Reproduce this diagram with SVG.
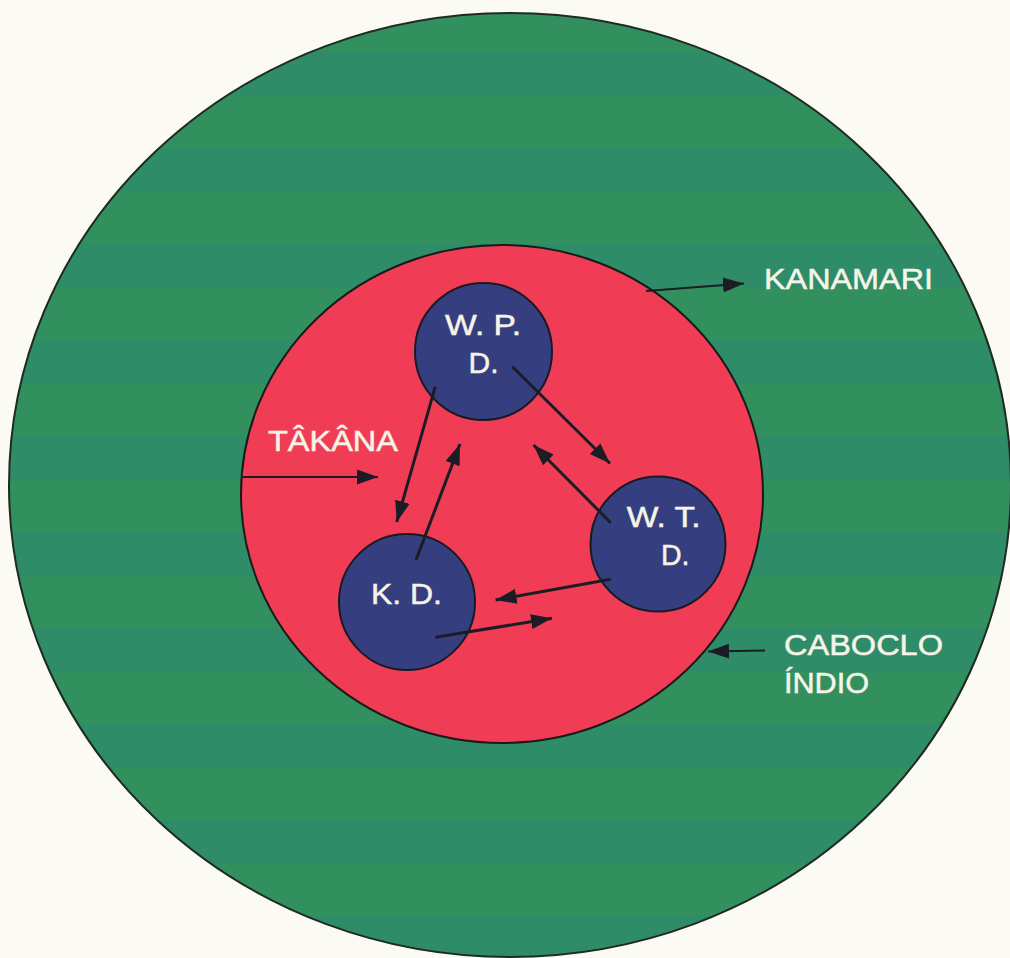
<svg xmlns="http://www.w3.org/2000/svg" width="1010" height="958" viewBox="0 0 1010 958">
  <defs>
    <style>
      .lbl { font-family: "Liberation Sans", Arial, sans-serif; font-size: 29.5px; fill: #f6f4e6; stroke: #f6f4e6; stroke-width: 0.5; }
      .conn { stroke: #1c1c26; stroke-width: 3; fill: none; marker-end: url(#ah); }
      .thin { stroke-width: 2.2; }
      .node { fill: #353f80; stroke: #1a1a24; stroke-width: 2; }
    </style>
    <marker id="ah" markerUnits="userSpaceOnUse" markerWidth="22" markerHeight="18" viewBox="0 0 22 18" refX="21" refY="9" orient="auto">
      <path d="M0,1.5 L21,9 L0,16.5 Z" fill="#1c1c26"/>
    </marker>
    <pattern id="stripes" patternUnits="userSpaceOnUse" width="1010" height="96">
      <rect width="1010" height="96" fill="#32905e"/>
      <rect y="52" width="1010" height="44" fill="#2e8d68"/>
    </pattern>
  </defs>
  <rect width="1010" height="958" fill="#fbfbf4"/>

  <g id="outer-kanamari">
    <ellipse cx="510" cy="485" rx="501" ry="472" fill="url(#stripes)" stroke="#1f2a24" stroke-width="2"/>
  </g>
  <g id="inner-takana">
    <ellipse cx="502" cy="494" rx="261" ry="249" fill="#f03d55" stroke="#1a1a1a" stroke-width="2"/>
  </g>

  <g id="node-wpd">
    <circle class="node" cx="483.5" cy="351.5" r="68.5"/>
    <text class="lbl" x="445" y="335" textLength="76" lengthAdjust="spacingAndGlyphs">W. P.</text>
    <text class="lbl" x="468.6" y="373" textLength="30" lengthAdjust="spacingAndGlyphs">D.</text>
  </g>
  <g id="node-wtd">
    <circle class="node" cx="658" cy="544" r="67.5"/>
    <text class="lbl" x="626.7" y="527" textLength="74" lengthAdjust="spacingAndGlyphs">W. T.</text>
    <text class="lbl" x="661" y="565" textLength="28.5" lengthAdjust="spacingAndGlyphs">D.</text>
  </g>
  <g id="node-kd">
    <circle class="node" cx="407" cy="602" r="68"/>
    <text class="lbl" x="371" y="604" textLength="71" lengthAdjust="spacingAndGlyphs">K. D.</text>
  </g>

  <g id="labels">
    <text class="lbl" x="268" y="451" textLength="130" lengthAdjust="spacingAndGlyphs">TÂKÂNA</text>
    <text class="lbl" x="764" y="289" textLength="169" lengthAdjust="spacingAndGlyphs">KANAMARI</text>
    <text class="lbl" x="784" y="655" textLength="159" lengthAdjust="spacingAndGlyphs">CABOCLO</text>
    <text class="lbl" x="784" y="693" textLength="85" lengthAdjust="spacingAndGlyphs">ÍNDIO</text>
  </g>

  <g id="connectors">
    <line class="conn thin" x1="242" y1="477" x2="378" y2="477"/>
    <line class="conn thin" x1="646" y1="291" x2="744" y2="283.5"/>
    <line class="conn thin" x1="765" y1="650.5" x2="708" y2="651.5"/>
    <line class="conn" x1="435.3" y1="386.7" x2="396.7" y2="522"/>
    <line class="conn" x1="416" y1="560" x2="460" y2="444"/>
    <line class="conn" x1="512.5" y1="366.7" x2="610" y2="463.5"/>
    <line class="conn" x1="610.7" y1="522.7" x2="533.5" y2="445"/>
    <line class="conn" x1="610.7" y1="579.3" x2="495.6" y2="600"/>
    <line class="conn" x1="435.3" y1="637.3" x2="552" y2="618.3"/>
  </g>
</svg>
